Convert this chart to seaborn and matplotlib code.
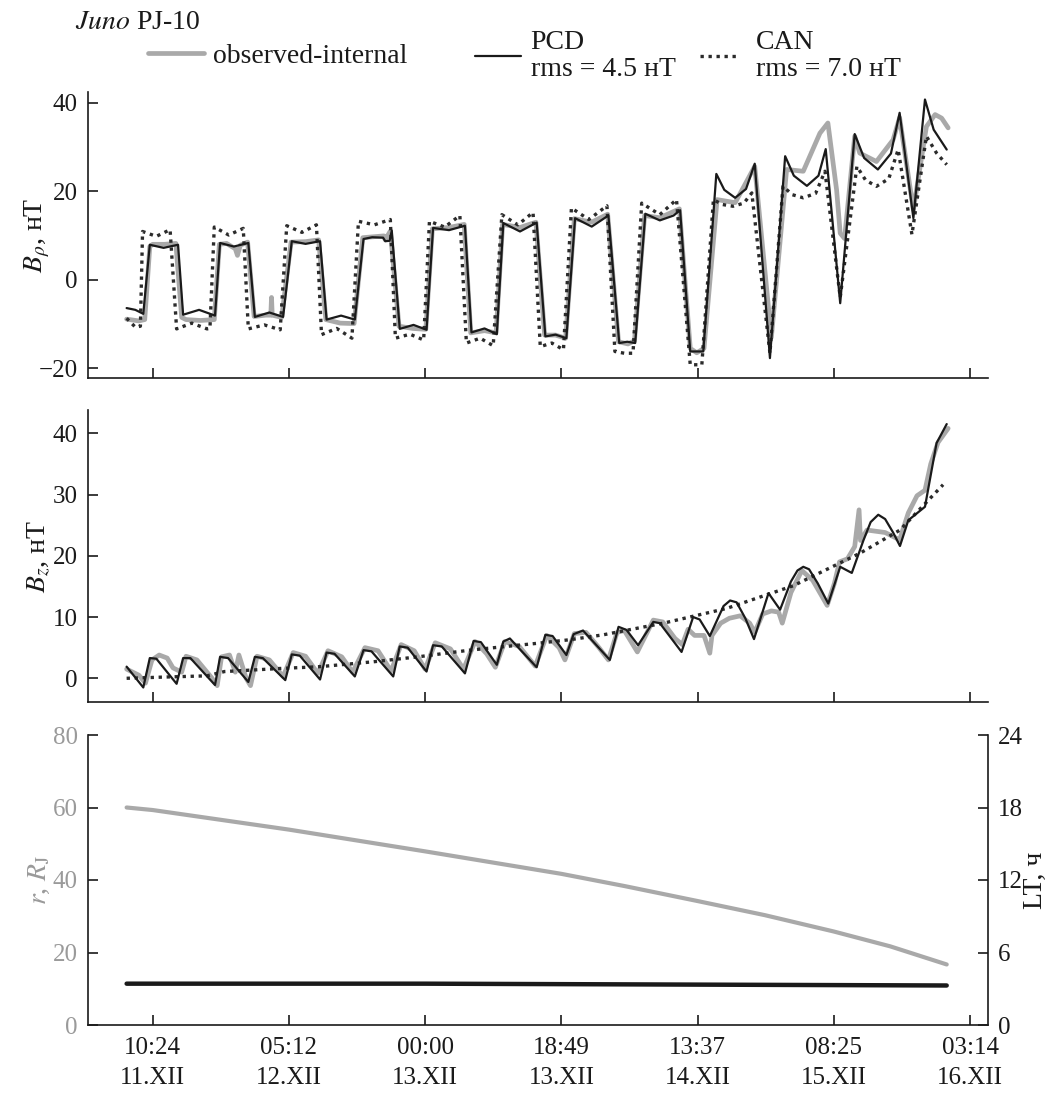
import matplotlib
matplotlib.use("Agg")
import matplotlib.pyplot as plt
import seaborn as sns
import pandas as pd
from matplotlib.lines import Line2D

# ---------------- data (time in hours since 11.XII 00:00) ----------------
brho_obs_t = [6.8, 8.5, 9.3, 10.0, 10.4, 12.0, 13.6, 14.4, 15.0, 17.0,
              18.9, 19.6, 20.6, 21.8, 22.1, 22.5, 23.5, 24.4, 26.0, 26.7,
              26.8, 26.9, 28.2, 29.5, 31.5, 33.3, 34.3, 36.3, 38.2, 39.4,
              42.3, 42.5, 43.2, 44.4, 46.3, 48.1, 49.0, 51.3, 53.4, 54.3,
              56.2, 57.8, 58.7, 61.1, 63.3, 64.5, 66.0, 67.4, 68.6, 71.0,
              73.2, 74.7, 76.0, 76.9, 78.3, 80.4, 83.1, 84.6, 85.5, 86.5,
              88.3, 90.8, 93.5, 95.8, 97.9, 100.2, 102.5, 103.6, 104.8, 105.3,
              105.9, 107.3, 108.0, 110.3, 112.6, 113.5, 115.4, 117.2, 118.4, 119.3,
              120.2]
brho_obs = [-8.9, -9.3, -9.0, 7.5, 8.0, 8.0, 8.2, -8.5, -9.0, -9.2,
            -9.0, 8.0, 8.2, 7.0, 5.5, 7.8, 8.5, -8.3, -8.0, -8.0,
            -4.0, -8.0, -8.5, 8.5, 8.6, 9.0, -9.0, -9.8, -9.9, 9.5,
            9.9, 9.0, 11.0, -10.5, -11.0, -11.2, 11.5, 11.8, 12.5, -12.0,
            -11.5, -12.0, 12.5, 11.8, 13.0, -12.5, -12.5, -13.2, 13.8, 13.0,
            14.8, -14.0, -14.5, -13.8, 14.5, 14.0, 16.0, -15.5, -16.5, -15.5,
            18.1, 17.4, 25.6, -13.0, 24.9, 24.5, 33.1, 35.4, 20.3, 10.5,
            9.3, 32.4, 28.6, 26.7, 31.6, 36.6, 15.8, 34.6, 37.3, 36.5,
            34.3]

brho_pcd_t = [6.8, 8.0, 9.1, 10.0, 11.9, 13.9, 14.6, 16.8, 19.0, 19.7,
              21.6, 23.6, 24.5, 26.5, 28.4, 29.6, 31.5, 33.5, 34.4, 36.4,
              38.3, 39.5, 40.7, 42.2, 42.5, 43.1, 43.4, 44.5, 46.4, 48.2,
              49.1, 51.3, 53.5, 54.4, 56.2, 57.9, 58.8, 61.1, 63.4, 64.6,
              66.0, 67.5, 68.7, 71.0, 73.3, 74.8, 75.9, 77.0, 78.4, 80.4,
              82.3, 83.2, 84.6, 86.4, 88.2, 89.3, 90.8, 92.3, 93.5, 95.6,
              97.7, 98.9, 100.7, 102.3, 103.3, 105.3, 107.3, 108.6, 110.5, 112.3,
              113.5, 115.4, 117.0, 118.2, 120.0]
brho_pcd = [-6.4, -6.8, -7.7, 7.9, 7.2, 7.9, -7.9, -6.8, -8.1, 8.3,
            7.5, 8.3, -8.4, -7.4, -8.4, 8.7, 8.1, 8.7, -9.0, -8.1,
            -9.0, 9.2, 9.6, 9.5, 8.7, 8.8, 11.1, -11.1, -10.2, -11.3,
            11.7, 11.2, 12.2, -11.9, -11.0, -12.3, 12.8, 10.9, 12.9, -12.8,
            -12.4, -13.2, 13.9, 12.0, 14.5, -14.3, -14.0, -14.3, 14.9, 13.4,
            14.5, 15.7, -16.2, -16.2, 23.9, 20.3, 18.5, 20.5, 26.2, -17.7,
            27.9, 23.5, 21.2, 23.5, 29.5, -5.3, 32.9, 27.5, 24.9, 28.5,
            37.7, 13.9, 40.7, 33.9, 29.4]

brho_can_t = [6.8, 8.0, 8.7, 9.0, 10.9, 12.8, 13.7, 15.8, 17.9, 18.3,
              18.9, 20.9, 22.9, 23.6, 25.8, 28.0, 28.9, 31.0, 33.0, 33.7,
              35.8, 37.9, 38.8, 41.0, 43.2, 43.9, 45.9, 47.8, 48.6, 50.7,
              52.8, 53.7, 55.6, 57.4, 58.6, 60.8, 62.9, 63.9, 65.5, 67.1,
              68.2, 70.6, 73.1, 74.2, 75.5, 76.7, 77.9, 80.4, 82.7, 84.6,
              86.2, 87.8, 89.0, 90.5, 92.0, 93.1, 95.6, 97.4, 98.7, 100.2,
              101.9, 103.2, 105.3, 107.6, 108.8, 110.3, 112.0, 113.3, 115.2, 117.2,
              118.6, 120.0]
brho_can = [-8.7, -10.7, -10.5, 10.9, 9.8, 11.3, -11.1, -9.8, -11.1, -11.0,
            11.9, 10.1, 11.6, -11.1, -10.2, -11.3, 12.2, 10.7, 12.4, -12.4,
            -11.0, -13.2, 13.2, 12.4, 13.6, -13.2, -12.3, -13.6, 13.2, 11.9,
            14.5, -14.3, -13.2, -14.9, 14.7, 12.4, 15.2, -15.1, -14.3, -15.8,
            16.2, 13.6, 16.7, -16.2, -16.6, -16.6, 17.3, 14.7, 18.1, -19.2,
            -19.2, 18.1, 17.0, 16.6, 17.3, 19.6, -16.6, 21.1, 19.2, 18.5,
            19.5, 24.5, -4.0, 25.6, 22.5, 21.1, 22.8, 29.4, 10.2, 32.4,
            28.6, 26.0]

bz_obs_t = [6.8, 8.5, 9.4, 10.3, 11.3, 12.4, 13.2, 14.4, 15.0, 16.5,
            18.6, 19.3, 19.9, 21.0, 21.8, 22.3, 23.3, 23.9, 24.8, 26.5,
            28.4, 29.8, 31.5, 33.2, 34.6, 36.5, 38.0, 39.7, 41.5, 43.3,
            44.7, 46.5, 48.0, 49.4, 51.5, 53.3, 54.9, 56.5, 57.7, 59.0,
            61.0, 63.2, 64.8, 66.5, 67.3, 68.6, 70.2, 72.0, 73.3, 74.5,
            75.5, 77.3, 79.5, 80.8, 82.5, 83.5, 84.3, 85.2, 86.5, 87.3,
            87.6, 88.8, 90.0, 91.5, 92.8, 93.5, 94.6, 95.8, 96.8, 97.3,
            98.5, 100.0, 101.5, 103.5, 104.5, 105.2, 106.3, 107.3, 107.9, 108.1,
            109.0, 111.5, 113.5, 114.7, 115.9, 117.0, 117.8, 118.8, 120.2]
bz_obs = [1.5, 0.5, -0.8, 3.0, 3.8, 3.3, 1.7, 1.0, 3.6, 3.0,
          0.0, -1.2, 3.5, 3.8, 1.0, 3.8, 0.0, -1.2, 3.6, 3.0,
          0.3, 4.2, 3.6, 0.8, 4.5, 3.5, 1.0, 5.0, 4.5, 1.2,
          5.5, 4.5, 1.5, 5.8, 4.8, 1.5, 6.0, 4.0, 1.8, 6.0,
          5.2, 2.0, 7.0, 5.0, 3.0, 7.3, 7.5, 5.0, 3.0, 7.5,
          7.8, 4.3, 9.5, 9.2, 6.5, 5.5, 8.0, 7.0, 7.0, 4.1,
          7.0, 9.0, 9.8, 10.2, 9.0, 7.5, 10.5, 11.0, 10.8, 9.0,
          14.0, 17.6, 16.0, 11.9, 15.5, 19.0, 19.5, 21.5, 27.5, 22.5,
          24.2, 23.8, 22.6, 27.0, 29.8, 30.7, 35.0, 38.5, 40.8]

bz_pcd_t = [6.8, 9.1, 10.0, 10.9, 13.7, 14.6, 15.6, 19.0, 19.7, 20.8,
            23.6, 24.5, 25.6, 28.7, 29.6, 30.7, 33.5, 34.4, 35.5, 38.3,
            39.5, 40.6, 43.6, 44.5, 45.6, 48.2, 49.1, 50.3, 53.5, 54.7,
            55.7, 57.9, 58.8, 59.7, 63.4, 64.6, 65.6, 67.5, 68.5, 69.8,
            73.5, 74.7, 75.8, 77.4, 79.5, 80.4, 83.4, 85.0, 85.9, 87.3,
            89.2, 90.1, 91.0, 92.2, 93.4, 95.4, 97.0, 98.5, 99.4, 100.2,
            101.0, 102.2, 103.65, 105.3, 106.9, 108.5, 109.5, 110.55, 111.5, 112.6,
            113.55, 114.7, 117.0, 118.6, 120.0]
bz_pcd = [1.9, -1.5, 3.3, 3.2, -0.9, 3.3, 3.3, -1.1, 3.5, 3.3,
          -0.6, 3.5, 3.3, -0.3, 3.9, 3.7, -0.2, 4.2, 4.0, 0.3,
          4.6, 4.4, 0.3, 5.2, 5.0, 1.1, 5.4, 5.2, 0.8, 6.1,
          5.9, 2.2, 6.0, 6.5, 1.8, 7.1, 6.9, 3.8, 7.2, 7.8,
          3.0, 8.4, 7.9, 5.4, 9.2, 9.0, 4.3, 10.0, 9.6, 6.9,
          11.8, 12.7, 12.4, 9.8, 6.4, 13.9, 11.2, 15.8, 17.6, 18.2,
          17.8, 15.5, 12.2, 18.2, 17.2, 22.5, 25.5, 26.7, 26.0, 23.8,
          21.6, 25.8, 28.0, 38.4, 41.5]

bz_can_t = [6.8, 12.0, 17.9, 20.3, 28.0, 33.5, 40.9, 47.0, 54.2, 63.4,
            68.0, 72.6, 80.9, 89.6, 98.8, 108.0, 113.55, 119.5]
bz_can = [0.0, 0.2, 0.4, 1.1, 1.6, 1.9, 2.7, 3.5, 4.6, 5.7,
          6.3, 7.1, 9.0, 11.4, 15.1, 20.4, 24.2, 31.6]

r_t = [6.8, 10.4, 29.2, 48.0, 66.8, 75.6, 85.6, 94.9, 104.4, 112.2, 120.0]
r_rj = [60.0, 59.3, 53.9, 47.9, 41.7, 38.3, 34.2, 30.3, 25.8, 21.7, 16.7]
lt_t = [6.8, 48.0, 120.0]
lt_h = [3.42, 3.42, 3.27]

tick_hours = [10.4, 29.2, 48.0, 66.8167, 85.6167, 104.4167, 123.2333]
tick_labels = ["10:24\n11.XII", "05:12\n12.XII", "00:00\n13.XII", "18:49\n13.XII",
               "13:37\n14.XII", "08:25\n15.XII", "03:14\n16.XII"]

# ---------------- style ----------------
sns.set_theme(style="ticks")
plt.rcParams["font.family"] = ["Liberation Serif", "DejaVu Serif"]
plt.rcParams["mathtext.fontset"] = "stix"
plt.rcParams["axes.linewidth"] = 1.2

GRAY = "#a9a9a9"
BLACK = "#1a1a1a"
DOT = "#2b2b2b"
TXT = "#1a1a1a"
LGRAY = "#9a9a9a"

fig = plt.figure(figsize=(10.58, 10.94), dpi=100)
W_PX, H_PX = 1058, 1094


def fy(py):
    return 1 - py / H_PX


L = 87.5 / W_PX
W = (988 - 87.5) / W_PX
AXW = 988 - 87.5
ax1 = fig.add_axes([L, fy(378.3), W, fy(92) - fy(378.3)])
ax2 = fig.add_axes([L, fy(702.3), W, fy(410) - fy(702.3)])
ax3 = fig.add_axes([L, fy(1025), W, fy(735) - fy(1025)])

dotted = (0, (1, 1.4))


def draw(ax, t, y, **kw):
    df = pd.DataFrame({"t": t, "y": y})
    sns.lineplot(data=df, x="t", y="y", ax=ax, estimator=None, sort=False,
                 legend=False, **kw)


draw(ax1, brho_obs_t, brho_obs, color=GRAY, lw=3.4)
draw(ax1, brho_can_t, brho_can, color=DOT, lw=2.4, linestyle=dotted)
draw(ax1, brho_pcd_t, brho_pcd, color=BLACK, lw=1.6)

draw(ax2, bz_obs_t, bz_obs, color=GRAY, lw=3.4)
draw(ax2, bz_can_t, bz_can, color=DOT, lw=2.4, linestyle=dotted)
draw(ax2, bz_pcd_t, bz_pcd, color=BLACK, lw=1.6)

draw(ax3, r_t, r_rj, color=GRAY, lw=3.0)
ax3b = ax3.twinx()
draw(ax3b, lt_t, lt_h, color=BLACK, lw=3.2)

xlim = (1.4, 125.7)
for ax in (ax1, ax2, ax3, ax3b):
    ax.set_xlim(*xlim)
    ax.set_xlabel("")
    ax.set_ylabel("")

ax1.set_ylim(-22.26, 42.4)
ax1.set_yticks([-20, 0, 20, 40])
ax2.set_ylim(-3.92, 43.8)
ax2.set_yticks([0, 10, 20, 30, 40])
ax3.set_ylim(0, 80)
ax3.set_yticks([0, 20, 40, 60, 80])
ax3b.set_ylim(0, 24)
ax3b.set_yticks([0, 6, 12, 18, 24])

for ax in (ax1, ax2, ax3):
    ax.set_xticks(tick_hours)
    ax.spines["top"].set_visible(False)
    ax.spines["right"].set_visible(False)
    for s in ("left", "bottom"):
        ax.spines[s].set_color(TXT)
        ax.spines[s].set_linewidth(1.2)
    ax.tick_params(axis="both", direction="in", length=7, width=1.2,
                   colors=TXT, labelsize=18, pad=7)

ax1.tick_params(axis="x", labelbottom=False)
ax2.tick_params(axis="x", labelbottom=False)
ax3.set_xticklabels(tick_labels)
ax3.tick_params(axis="x", pad=9)
for lab in ax3.get_xticklabels():
    lab.set_linespacing(1.45)
ax3.tick_params(axis="y", labelcolor=LGRAY)

ax3b.spines["top"].set_visible(False)
ax3b.spines["left"].set_visible(False)
ax3b.spines["bottom"].set_visible(False)
ax3b.spines["right"].set_color(TXT)
ax3b.spines["right"].set_linewidth(1.2)
ax3b.tick_params(axis="y", direction="in", length=7, width=1.2, colors=TXT,
                 labelsize=18, pad=7)

ax1.set_ylabel(r"$B_\rho$, нТ", fontsize=20, color=TXT)
ax2.set_ylabel(r"$B_z$, нТ", fontsize=20, color=TXT)
ax3.set_ylabel(r"$r$, $R_\mathrm{J}$", fontsize=20, color=LGRAY)
ax3b.set_ylabel("LT, ч", fontsize=20, color=TXT)
for ax in (ax1, ax2, ax3):
    ax.yaxis.set_label_coords((52 - 87.5) / AXW, 0.5)
ax3b.yaxis.set_label_coords((1023 - 87.5) / AXW, 0.5)

# ---------------- header / legend ----------------
fig.text(75 / W_PX, fy(29), r"$\mathit{Juno}$ PJ-10", fontsize=20, color=TXT,
         ha="left", va="baseline")

items = [
    (Line2D([], [], color=GRAY, lw=3.4), "observed-internal", 148, 2.0, 0.35),
    (Line2D([], [], color=BLACK, lw=1.6), "PCD\nrms = 4.5 нТ", 475, 1.65, 0.35),
    (Line2D([], [], color=DOT, lw=2.4, linestyle=dotted), "CAN\nrms = 7.0 нТ", 700, 1.45, 0.55),
]
for h, lab, x0, hl, htp in items:
    leg = fig.legend(handles=[h], labels=[lab], loc="center left",
                     bbox_to_anchor=(x0 / W_PX, fy(56)), frameon=False,
                     fontsize=20, handlelength=hl, handletextpad=htp,
                     borderpad=0, borderaxespad=0)
    for t in leg.get_texts():
        t.set_linespacing(1.1)
        t.set_color(TXT)

fig.savefig("out.png", dpi=100)
